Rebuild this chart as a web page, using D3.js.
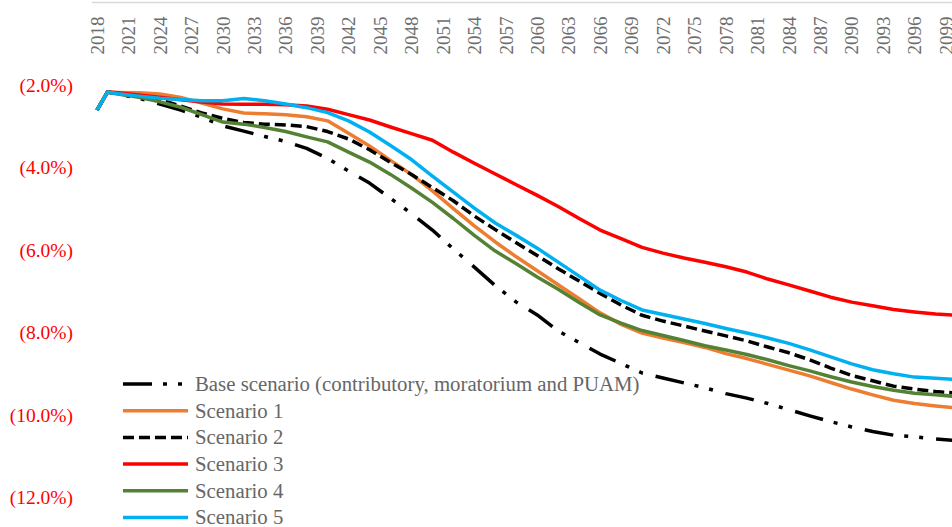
<!DOCTYPE html>
<html>
<head>
<meta charset="utf-8">
<script src="https://cdn.jsdelivr.net/npm/d3@7/dist/d3.min.js"></script>
<style>
  html, body { margin: 0; padding: 0; background: #fff; }
  svg { display: block; }
</style>
</head>
<body>
<svg id="chart" width="952" height="527"></svg>
<script>
// Projection years (annual start, then every two years)
const years = [2018, 2019, 2020, 2022, 2024, 2026, 2028, 2030, 2032, 2034, 2036, 2038, 2040,
  2042, 2044, 2046, 2048, 2050, 2052, 2054, 2056, 2058, 2060, 2062, 2064, 2066, 2068, 2070,
  2072, 2074, 2076, 2078, 2080, 2082, 2084, 2086, 2088, 2090, 2092, 2094, 2096, 2098, 2100];

// Balance as % (negative = deficit)
const baseScenario = [-2.61,-2.17,-2.22,-2.32,-2.46,-2.61,-2.78,-2.99,-3.12,-3.25,-3.37,-3.54,-3.78,
  -4.09,-4.38,-4.75,-5.12,-5.52,-5.98,-6.42,-6.87,-7.27,-7.58,-7.97,-8.25,-8.53,-8.76,-8.99,
  -9.11,-9.23,-9.35,-9.49,-9.60,-9.73,-9.88,-10.03,-10.17,-10.30,-10.41,-10.50,-10.54,-10.59,-10.63];
const scenario1 = [-2.61,-2.17,-2.18,-2.19,-2.22,-2.30,-2.44,-2.58,-2.68,-2.70,-2.72,-2.77,-2.87,
  -3.17,-3.48,-3.83,-4.17,-4.57,-5.00,-5.42,-5.81,-6.17,-6.51,-6.85,-7.19,-7.53,-7.81,-8.02,
  -8.14,-8.25,-8.37,-8.52,-8.64,-8.78,-8.92,-9.06,-9.22,-9.38,-9.52,-9.65,-9.73,-9.79,-9.84];
const scenario2 = [-2.61,-2.17,-2.21,-2.28,-2.36,-2.51,-2.68,-2.81,-2.91,-2.95,-2.97,-3.01,-3.13,
  -3.31,-3.57,-3.88,-4.17,-4.49,-4.81,-5.18,-5.51,-5.83,-6.14,-6.46,-6.76,-7.06,-7.34,-7.59,
  -7.73,-7.85,-7.97,-8.09,-8.21,-8.36,-8.50,-8.67,-8.87,-9.05,-9.18,-9.31,-9.38,-9.44,-9.48];
const scenario3 = [-2.61,-2.17,-2.19,-2.24,-2.30,-2.36,-2.41,-2.46,-2.47,-2.47,-2.48,-2.51,-2.59,
  -2.72,-2.85,-3.02,-3.18,-3.34,-3.63,-3.90,-4.16,-4.42,-4.68,-4.95,-5.24,-5.52,-5.73,-5.94,
  -6.08,-6.20,-6.30,-6.41,-6.54,-6.71,-6.85,-7.00,-7.15,-7.27,-7.36,-7.45,-7.51,-7.56,-7.59];
const scenario4 = [-2.61,-2.17,-2.22,-2.30,-2.41,-2.54,-2.72,-2.90,-2.95,-3.03,-3.13,-3.26,-3.38,
  -3.63,-3.87,-4.17,-4.50,-4.85,-5.24,-5.65,-6.03,-6.34,-6.66,-6.96,-7.28,-7.58,-7.78,-7.96,
  -8.08,-8.20,-8.33,-8.43,-8.54,-8.67,-8.81,-8.94,-9.08,-9.21,-9.32,-9.41,-9.48,-9.52,-9.56];
const scenario5 = [-2.61,-2.17,-2.21,-2.27,-2.32,-2.35,-2.38,-2.38,-2.33,-2.38,-2.46,-2.55,-2.67,
  -2.87,-3.14,-3.47,-3.81,-4.21,-4.60,-4.99,-5.35,-5.65,-5.96,-6.30,-6.64,-6.98,-7.23,-7.46,
  -7.57,-7.68,-7.79,-7.91,-8.02,-8.14,-8.27,-8.43,-8.60,-8.77,-8.91,-9.01,-9.09,-9.12,-9.15];

const seriesNames = ["Base scenario (contributory, moratorium and PUAM)", "Scenario 1",
  "Scenario 2", "Scenario 3", "Scenario 4", "Scenario 5"];

// Category labels on the top axis
const xTickYears = [2018, 2021, 2024, 2027, 2030, 2033, 2036, 2039, 2042, 2045, 2048, 2051, 2054,
  2057, 2060, 2063, 2066, 2069, 2072, 2075, 2078, 2081, 2084, 2087, 2090, 2093, 2096, 2099];
const yTicks = [-2, -4, -6, -8, -10, -12];

const styles = [
  { color: "#000000", dash: "29,11,4,11,4,13" },
  { color: "#ED7D31", dash: null },
  { color: "#000000", dash: "11,5" },
  { color: "#FF0000", dash: null },
  { color: "#548235", dash: null },
  { color: "#00B0F0", dash: null }
];

const seriesValues = [baseScenario, scenario1, scenario2, scenario3, scenario4, scenario5];
const series = seriesNames.map((name, i) => ({
  name,
  style: styles[i],
  points: years.map((yr, j) => ({ year: yr, value: seriesValues[i][j] }))
}));

const W = 952, H = 527;
const svg = d3.select("#chart");

const x = d3.scaleLinear().domain([2018, 2099]).range([97, 946]);
const y = d3.scaleLinear().domain([0, -12]).range([2.6, 497]);

const serif = "'Liberation Serif', 'Times New Roman', serif";

// Horizontal category axis sits at 0%
svg.append("line")
  .attr("x1", x(2017.5)).attr("x2", W)
  .attr("y1", y(0)).attr("y2", y(0))
  .attr("stroke", "#d9d9d9").attr("stroke-width", 1.5);

const xAxis = d3.axisTop(x).tickValues(xTickYears).tickSize(0).tickFormat(d3.format("d"));
const gx = svg.append("g").attr("transform", `translate(0,${y(0)})`).call(xAxis);
gx.select(".domain").remove();
gx.selectAll("text")
  .attr("font-family", serif)
  .attr("font-size", "19px")
  .attr("fill", "#6e6e6e")
  .attr("text-anchor", "end")
  .attr("transform", "rotate(-90)")
  .attr("x", -14)
  .attr("y", 0)
  .attr("dy", "0.33em");

// Vertical value axis (labels only)
const yAxis = d3.axisLeft(y).tickValues(yTicks).tickSize(0)
  .tickFormat(v => `(${Math.abs(v).toFixed(1)}%)`);
const gy = svg.append("g").attr("transform", "translate(73,0)").call(yAxis);
gy.select(".domain").remove();
gy.selectAll("text")
  .attr("font-family", serif)
  .attr("font-size", "19.5px")
  .attr("fill", "#FF0000")
  .attr("x", 0)
  .attr("dy", "0.33em");

// Series lines
const line = d3.line().x(d => x(d.year)).y(d => y(d.value)).curve(d3.curveLinear);
svg.append("g").selectAll("path")
  .data(series)
  .join("path")
  .attr("d", d => line(d.points))
  .attr("fill", "none")
  .attr("stroke", d => d.style.color)
  .attr("stroke-width", 3.5)
  .attr("stroke-linejoin", "round")
  .attr("stroke-dasharray", d => d.style.dash);

// Legend
const legend = svg.append("g").attr("transform", "translate(123,384)");
const rows = legend.selectAll("g").data(series).join("g")
  .attr("transform", (d, i) => `translate(0,${i * 26.7})`);
rows.append("line")
  .attr("x1", 0).attr("x2", 65).attr("y1", 0).attr("y2", 0)
  .attr("stroke", d => d.style.color)
  .attr("stroke-width", 3.5)
  .attr("stroke-dasharray", d => d.style.dash);
rows.append("text")
  .attr("x", 72).attr("y", 0).attr("dy", "0.33em")
  .attr("font-family", serif)
  .attr("font-size", "20.8px")
  .attr("fill", "#666666")
  .text(d => d.name);
</script>
</body>
</html>
